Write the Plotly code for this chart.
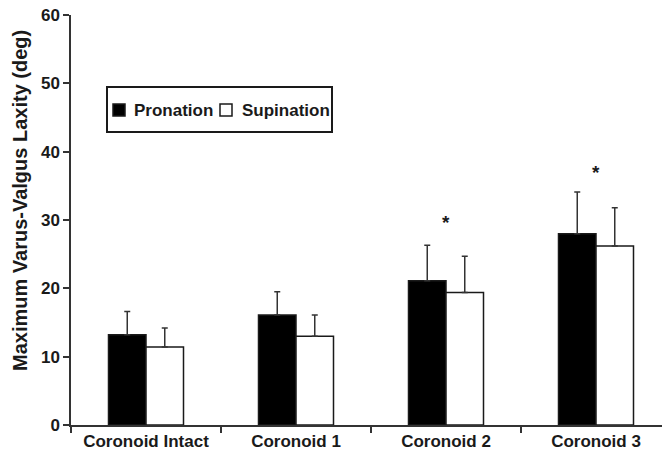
import plotly.graph_objects as go

# Coronoid conditions and laxity measurements (degrees)
categories = ["Coronoid Intact", "Coronoid 1", "Coronoid 2", "Coronoid 3"]
pronation = [13.2, 16.1, 21.1, 28.0]
pronation_sd = [3.4, 3.4, 5.2, 6.1]
supination = [11.4, 13.0, 19.4, 26.2]
supination_sd = [2.8, 3.1, 5.3, 5.6]

# Significance markers (category, height)
sig_categories = ["Coronoid 2", "Coronoid 3"]
sig_heights = [29.6, 36.9]

y_ticks = [0, 10, 20, 30, 40, 50, 60]

FONT = "Liberation Sans, Arial, sans-serif"
INK = "#1a1a1a"

W, H = 662, 454
ML, MR, MT, MB = 71, 0, 15, 29
PW, PH = W - ML - MR, H - MT - MB


def px(x):
    """Horizontal pixel -> paper coordinate."""
    return (x - ML) / PW


def py(y):
    """Vertical pixel (from top) -> paper coordinate."""
    return (H - MB - y) / PH


fig = go.Figure()

fig.add_trace(go.Bar(
    name="Pronation",
    x=categories,
    y=pronation,
    marker=dict(color="black", line=dict(color=INK, width=1.5)),
    error_y=dict(type="data", array=pronation_sd, arrayminus=[0] * len(pronation_sd),
                 symmetric=False, color="#333333", thickness=1.5, width=3),
))
fig.add_trace(go.Bar(
    name="Supination",
    x=categories,
    y=supination,
    marker=dict(color="white", line=dict(color=INK, width=1.5)),
    error_y=dict(type="data", array=supination_sd, arrayminus=[0] * len(supination_sd),
                 symmetric=False, color="#333333", thickness=1.5, width=3),
))

for cat, h in zip(sig_categories, sig_heights):
    fig.add_annotation(x=cat, y=h, text="<b>*</b>", showarrow=False,
                       font=dict(family=FONT, size=19, color=INK))

# Vertical axis title, placed slightly above the plot centre
fig.add_annotation(
    text="<b>Maximum Varus-Valgus Laxity (deg)</b>",
    xref="paper", yref="paper", x=px(20), y=py(201),
    xanchor="center", yanchor="middle",
    textangle=-90, showarrow=False,
    font=dict(family=FONT, size=20, color=INK),
)

# Boxed key for the two forearm positions
fig.add_shape(type="rect", xref="paper", yref="paper",
              x0=px(107), x1=px(332), y0=py(132), y1=py(87),
              line=dict(color=INK, width=2), fillcolor="white", layer="above")
key_items = [("Pronation", "black", 113, 132), ("Supination", "white", 220, 240)]
for label, fill, sx, tx in key_items:
    fig.add_shape(type="rect", xref="paper", yref="paper",
                  x0=px(sx), x1=px(sx + 12), y0=py(116), y1=py(104),
                  line=dict(color=INK, width=1.5), fillcolor=fill, layer="above")
    fig.add_annotation(text=f"<b>{label}</b>", xref="paper", yref="paper",
                       x=px(tx), y=py(110), xanchor="left", yanchor="middle",
                       showarrow=False,
                       font=dict(family=FONT, size=17, color=INK))

fig.update_layout(
    width=W, height=H,
    margin=dict(l=ML, r=MR, t=MT, b=MB, pad=0),
    paper_bgcolor="white", plot_bgcolor="white",
    barmode="group", bargap=0.5, bargroupgap=0,
    font=dict(family=FONT, size=17, color=INK),
    showlegend=False,
    xaxis=dict(
        range=[-0.5, 3.44], showline=True, linecolor="#333333", linewidth=1.5,
        ticks="outside", tickson="boundaries", ticklen=6, tickcolor="#333333",
        tickwidth=1.5, showgrid=False, zeroline=False,
        tickfont=dict(family=FONT, size=17, color=INK, weight="bold"),
    ),
    yaxis=dict(
        range=[0, 60], tickvals=y_ticks, showline=True, linecolor="#333333",
        linewidth=1.5, ticks="outside", ticklen=6, tickcolor="#333333",
        tickwidth=1.5, showgrid=False, zeroline=False,
        tickfont=dict(family=FONT, size=17, color=INK, weight="bold"),
    ),
)

fig.write_html("out.html")
